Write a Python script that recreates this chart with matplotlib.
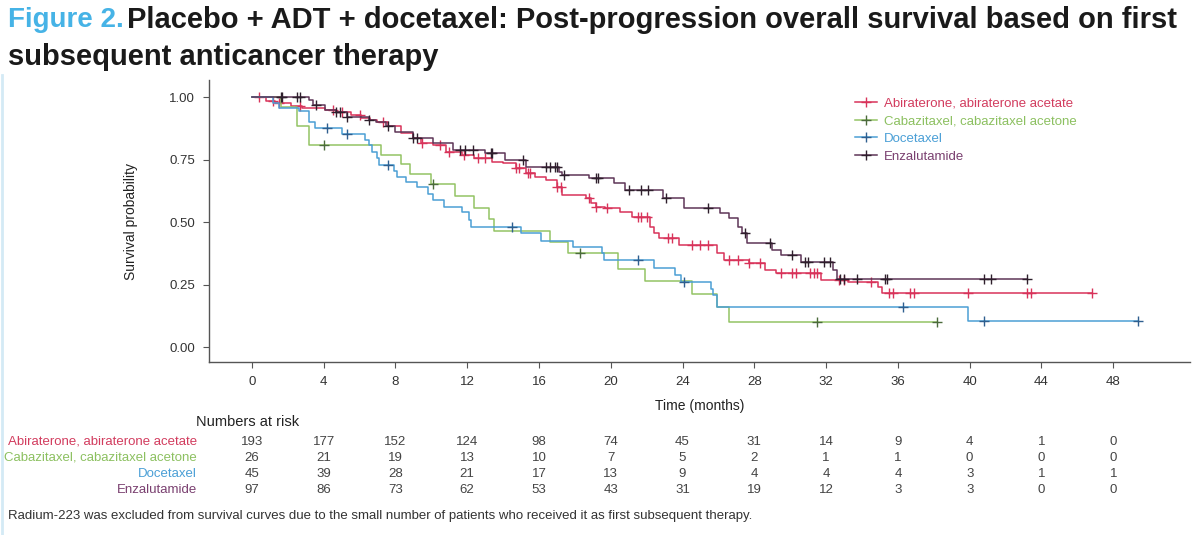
import numpy as np
import matplotlib
matplotlib.use("Agg")
import matplotlib.pyplot as plt
import matplotlib.transforms as mtransforms
from matplotlib.lines import Line2D

plt.rcParams['font.family'] = ['Liberation Sans', 'DejaVu Sans']

# Kaplan-Meier steps (time [months], survival after step)
abi_t = [0, 0.8, 1.3, 2.2, 2.8, 4.1, 4.7, 5.5, 6.1, 6.6, 7.0, 7.6, 8.3, 9.0, 9.4, 10.1, 10.8, 11.7,
         12.4, 13.4, 14.0, 14.7, 15.3, 15.8, 16.4, 17.0, 17.3, 18.6, 18.9, 19.2, 19.7, 20.5, 21.2,
         22.2, 22.4, 22.7, 23.8, 25.9, 26.3, 27.7, 28.6, 29.2, 31.7, 33.2, 34.9, 35.1]
abi_s = [1.0, 0.985, 0.975, 0.965, 0.955, 0.95, 0.942, 0.928, 0.915, 0.908, 0.9, 0.884, 0.855, 0.835,
         0.815, 0.808, 0.781, 0.768, 0.758, 0.741, 0.735, 0.715, 0.695, 0.68, 0.668, 0.641, 0.608,
         0.595, 0.575, 0.561, 0.555, 0.541, 0.521, 0.481, 0.455, 0.435, 0.408, 0.375, 0.348, 0.335,
         0.308, 0.298, 0.268, 0.259, 0.239, 0.218]
abi_cens = [0.4, 1.2, 1.5, 2.7, 4.5, 5.0, 6.0, 7.3, 9.5, 10.5, 11.0, 11.8, 12.6, 13.0, 14.7, 14.9,
            15.4, 15.5, 17.0, 17.2, 18.8, 19.2, 19.8, 21.5, 21.7, 22.0, 23.2, 23.4, 24.5, 25.0, 25.4,
            26.6, 27.1, 27.7, 28.3, 29.5, 30.1, 30.3, 31.1, 31.3, 31.5, 32.7, 33.0, 34.5, 35.5, 35.7,
            36.7, 36.9, 39.9, 43.2, 43.4, 46.8]

cab_t = [0, 1.6, 2.5, 3.2, 7.2, 8.3, 8.8, 10.0, 11.3, 12.4, 13.2, 13.5, 16.6, 17.6, 20.4, 21.9,
         24.5, 25.9, 26.6]
cab_s = [1.0, 0.962, 0.885, 0.808, 0.769, 0.731, 0.692, 0.654, 0.604, 0.558, 0.511, 0.464, 0.419,
         0.375, 0.313, 0.264, 0.211, 0.159, 0.102]
cab_cens = [4.0, 10.1, 18.3, 31.5, 38.2]

doc_t = [0, 1.2, 1.5, 2.6, 3.2, 3.5, 5.0, 6.3, 6.5, 6.7, 7.0, 7.1, 7.9, 8.1, 8.6, 9.2, 9.8, 10.1,
         10.7, 11.7, 12.1, 12.2, 15.0, 16.1, 17.9, 19.5, 19.6, 22.4, 23.6, 23.9, 25.6, 25.7, 25.9, 39.9]
doc_s = [1.0, 0.978, 0.956, 0.945, 0.9, 0.878, 0.852, 0.828, 0.808, 0.781, 0.755, 0.728, 0.705,
         0.681, 0.661, 0.641, 0.614, 0.588, 0.561, 0.541, 0.507, 0.48, 0.455, 0.425, 0.401, 0.375,
         0.348, 0.315, 0.288, 0.261, 0.231, 0.208, 0.159, 0.105]
doc_cens = [4.2, 5.3, 7.6, 14.5, 21.5, 24.1, 36.3, 40.8, 49.4]

enz_t = [0, 3.2, 3.4, 4.1, 4.7, 5.3, 6.5, 6.9, 7.5, 8.0, 9.0, 10.1, 11.2, 13.0, 14.1, 15.3, 17.1,
         17.3, 18.8, 20.2, 20.8, 22.9, 24.1, 26.1, 26.6, 27.1, 27.3, 27.6, 29.0, 29.5, 30.6, 32.4, 32.6]
enz_s = [1.0, 0.988, 0.968, 0.95, 0.94, 0.919, 0.908, 0.9, 0.884, 0.861, 0.835, 0.815, 0.788, 0.775,
         0.748, 0.719, 0.702, 0.688, 0.675, 0.657, 0.628, 0.595, 0.558, 0.535, 0.515, 0.48, 0.455,
         0.415, 0.388, 0.368, 0.341, 0.308, 0.273]
enz_cens = [1.6, 1.7, 2.5, 2.7, 3.6, 4.7, 4.9, 5.3, 6.5, 7.6, 9.0, 9.2, 11.6, 11.9, 12.3, 13.3,
            13.4, 15.1, 16.4, 16.6, 16.9, 17.0, 17.4, 19.2, 19.3, 21.0, 21.7, 22.1, 23.1, 25.4, 27.5,
            28.9, 30.1, 30.8, 31.0, 31.9, 32.2, 32.8, 33.0, 33.7, 35.3, 35.4, 40.8, 41.2, 43.2]

labels = ["Abiraterone, abiraterone acetate", "Cabazitaxel, cabazitaxel acetone",
          "Docetaxel", "Enzalutamide"]
risk_times = list(range(0, 49, 4))
risk_abi = [193, 177, 152, 124, 98, 74, 45, 31, 14, 9, 4, 1, 0]
risk_cab = [26, 21, 19, 13, 10, 7, 5, 2, 1, 1, 0, 0, 0]
risk_doc = [45, 39, 28, 21, 17, 13, 9, 4, 4, 4, 3, 1, 1]
risk_enz = [97, 86, 73, 62, 53, 43, 31, 19, 12, 3, 3, 0, 0]

line_cols = ["#d8335a", "#93c364", "#4b9fd5", "#5e3557"]
mark_cols = ["#d8335a", "#4c6b3c", "#2f5f8f", "#2e1f2c"]
text_cols = ["#d23c5e", "#8cc060", "#4a9fd6", "#7a4070"]

series = [
    (abi_t, abi_s, abi_cens),
    (cab_t, cab_s, cab_cens),
    (doc_t, doc_s, doc_cens),
    (enz_t, enz_s, enz_cens),
]


def km_level(t, s, x):
    idx = np.searchsorted(t, x, side="right") - 1
    return np.array(s)[idx]


#%% Figur
fig = plt.figure(figsize=(12, 5.35), dpi=100)
ax = fig.add_axes([0.174, 0.323, 0.818, 0.527])

for (t, s, cens), lc, mc in zip(series, line_cols, mark_cols):
    t_end = max(max(t), max(cens))
    ax.step(list(t) + [t_end], list(s) + [s[-1]], where="post", color=lc, lw=1.1)
    cens = np.array(cens)
    ax.plot(cens, km_level(t, s, cens), ls="none", marker="+", ms=7, mew=1.0, color=mc)

ax.set_xlim(-2.4, 52.3)
ax.set_ylim(-0.06, 1.068)
ax.set_xticks(risk_times)
ax.set_yticks([0, 0.25, 0.5, 0.75, 1.0])
ax.set_yticklabels(["0.00", "0.25", "0.50", "0.75", "1.00"])
ax.spines["top"].set_visible(False)
ax.spines["right"].set_visible(False)
for sp in ["left", "bottom"]:
    ax.spines[sp].set_color("#555555")
    ax.spines[sp].set_linewidth(1.0)
ax.tick_params(colors="#555555", labelcolor="#333333", labelsize=9.5, length=4, pad=6)
ax.set_xlabel("Time (months)", fontsize=10, color="#222222", labelpad=8)
ax.set_ylabel("Survival probability", fontsize=10, color="#222222", labelpad=22)

handles = [Line2D([], [], color=lc, lw=1.1, marker="+", ms=7, mew=1.0, mec=mc)
           for lc, mc in zip(line_cols, mark_cols)]
leg = fig.legend(handles, labels, loc="upper left", bbox_to_anchor=(0.708, 0.828),
                 frameon=False, fontsize=9.5, handlelength=1.7, handletextpad=0.5,
                 labelspacing=0.42, borderaxespad=0)
for txt, c in zip(leg.get_texts(), text_cols):
    txt.set_color(c)

# Tittel
fig.text(0.007, 0.962, "Figure 2.", fontsize=20, fontweight="bold", color="#46b3e6",
         va="center")
fig.text(0.106, 0.962, "Placebo + ADT + docetaxel: Post-progression overall survival based on first",
         fontsize=21, fontweight="bold", color="#1a1a1a", va="center")
fig.text(0.007, 0.893, "subsequent anticancer therapy", fontsize=21, fontweight="bold",
         color="#1a1a1a", va="center")

# Numbers at risk
trans = mtransforms.blended_transform_factory(ax.transData, fig.transFigure)
fig.text(0.163, 1 - 422 / 535, "Numbers at risk", fontsize=10.5, color="#222222", va="center")
rows_y = [442, 458, 474, 490]
for lab, col, risk, y in zip(labels, text_cols, [risk_abi, risk_cab, risk_doc, risk_enz], rows_y):
    fy = 1 - y / 535
    fig.text(0.164, fy, lab, fontsize=9.5, color=col, ha="right", va="center")
    for tt, n in zip(risk_times, risk):
        ax.text(tt, fy, str(n), transform=trans, fontsize=9.5, color="#444444",
                ha="center", va="center")

fig.text(0.007, 1 - 516 / 535,
         "Radium-223 was excluded from survival curves due to the small number of patients "
         "who received it as first subsequent therapy.",
         fontsize=9.5, color="#333333", va="center")

# Lys blå ramme
fig.add_artist(Line2D([0.002, 0.002], [0.0, 0.86], transform=fig.transFigure,
                      color="#d4eaf5", lw=2))

fig.savefig("out.png", dpi=100)
